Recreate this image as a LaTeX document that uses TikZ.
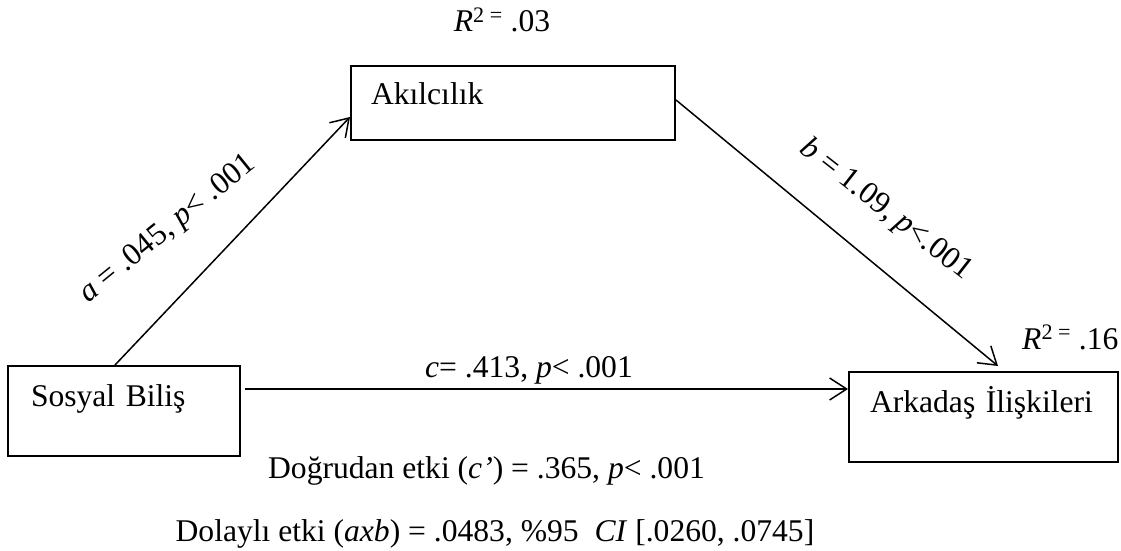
\documentclass[tikz,border=0pt]{standalone}
\usepackage{fontspec}
\setmainfont{Liberation Serif}
\usetikzlibrary{arrows.meta}
\begin{document}
\begin{tikzpicture}[x=1pt,y=-1pt,
  every node/.style={font=\fontsize{31.6}{38}\selectfont},
  varbox/.style={draw, line width=2pt, rectangle, anchor=north west, inner ysep=0pt, align=left},
  conn/.style={line width=1.5pt, -{Straight Barb[length=17pt,width=22pt]}},
  lbl/.style={inner sep=0pt}]
\useasboundingbox (0,0) rectangle (1121,551);
\fill[white] (0,0) rectangle (1121,551);
% boxes
\node[varbox, inner xsep=20pt, text width=284pt, text height=38pt, text depth=36pt] (ak) at (350,65) {Akılcılık};
\node[varbox, inner xsep=23pt, text width=186pt, text height=40pt, text depth=50pt] (sb) at (7,365) {Sosyal Biliş};
\node[varbox, inner xsep=21pt, text width=227pt, text height=40pt, text depth=50pt] (ar) at (848,371) {\mbox{Arkadaş İlişkileri}};
% connectors
\draw[conn] ([xshift=108pt]sb.north west) -- ([yshift=-52pt]ak.north west);
\draw[conn] ([yshift=-35pt]ak.north east) -- ([xshift=150pt,yshift=5pt]ar.north west);
\draw[conn] ([xshift=4pt,yshift=-24pt]sb.north east) -- ([yshift=-18pt]ar.north west);
% labels
\node[lbl, anchor=base] (r2a) at (502,32) {\textit{R}\textsuperscript{2 =} .03};
\node[lbl, anchor=base west] (r2b) at (1022,349) {\textit{R}\textsuperscript{2 =} .16};
\node[lbl, anchor=base west] (lc) at (425,377) {\textit{c}= .413, \textit{p}< .001};
\node[lbl, anchor=base, rotate=39] (la) at (172.5,235) {\textit{a} = .045, \textit{p}< .001};
\node[lbl, anchor=base, rotate=-38] (lb) at (881,216) {\textit{b} = 1.09, \textit{p}<.001};
\node[lbl, anchor=base] (de) at (486.5,478) {Doğrudan etki (\textit{c'}) = .365, \textit{p}< .001};
\node[lbl, anchor=base] (ie) at (495,541) {Dolaylı etki (\textit{axb}) = .0483, \%95\ \ \textit{CI} [.0260, .0745]};
\end{tikzpicture}
\end{document}
